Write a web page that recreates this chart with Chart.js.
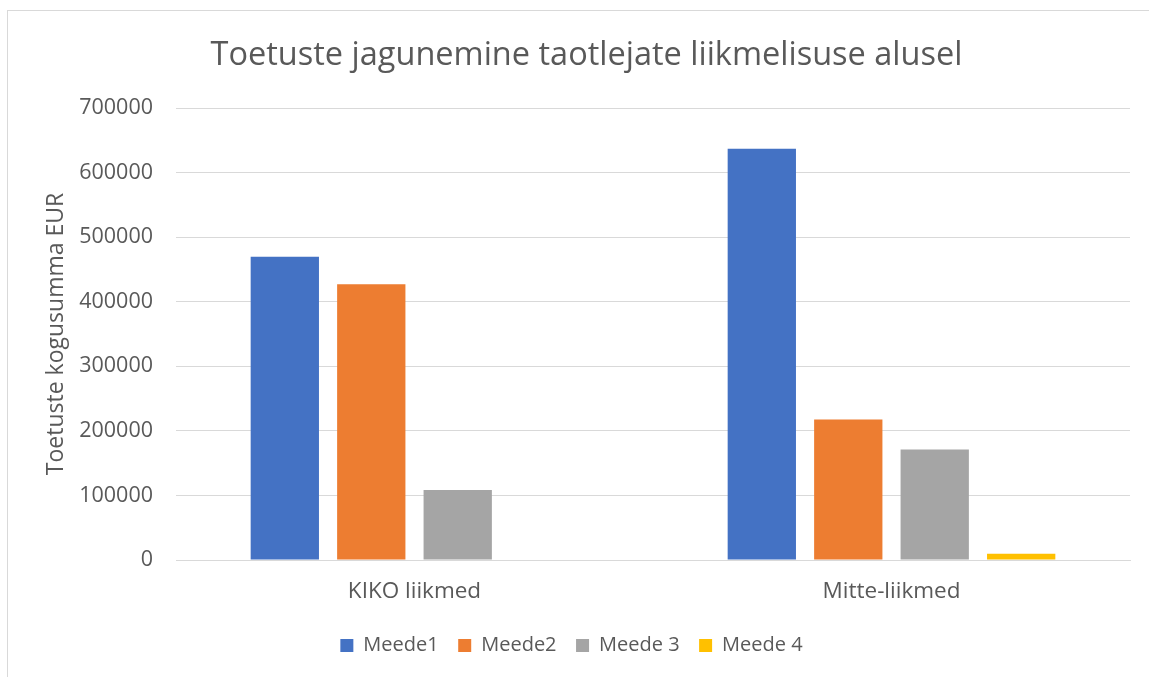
<!DOCTYPE html>
<html>
<head>
<meta charset="utf-8">
<script src="https://cdn.jsdelivr.net/npm/chart.js@4"></script>
<style>
  html, body { margin: 0; padding: 0; background: #fff; }
  #wrap { position: relative; width: 1149px; height: 677px; }
  #frame { position: absolute; left: 7px; top: 10px; width: 1160px; height: 700px; border: 1px solid #d9d9d9; box-sizing: border-box; }
  canvas { position: absolute; left: 0; top: 0; }
</style>
</head>
<body>
<div id="wrap">
  <div id="frame"></div>
  <canvas id="chart" width="1149" height="677"></canvas>
</div>
<script>
const categories = ['KIKO liikmed', 'Mitte-liikmed'];
const seriesNames = ['Meede1', 'Meede2', 'Meede 3', 'Meede 4'];
const meede1 = [469500, 637000];
const meede2 = [427000, 217500];
const meede3 = [108500, 171000];
const meede4 = [0, 9500];
const colors = ['#4472C4', '#ED7D31', '#A5A5A5', '#FFC000'];

const textColor = '#595959';
const font = 'Open Sans';

// legend sits a little left of centre in the original
const legendShift = {
    id: 'legendShift',
    afterLayout(chart) {
        chart.legend.left -= 15;
        chart.legend.right -= 15;
    }
};

const ctx = document.getElementById('chart').getContext('2d');
new Chart(ctx, {
    type: 'bar',
    data: {
        labels: categories,
        datasets: [meede1, meede2, meede3, meede4].map((d, i) => ({
            label: seriesNames[i],
            data: d,
            backgroundColor: colors[i],
            borderWidth: 0,
            categoryPercentage: 0.725,
            barPercentage: 0.79
        }))
    },
    options: {
        responsive: false,
        animation: false,
        layout: { padding: { left: 43, right: 19, top: 36, bottom: 11.5 } },
        plugins: {
            title: {
                display: true,
                text: 'Toetuste jagunemine taotlejate liikmelisuse alusel',
                color: textColor,
                font: { family: font, size: 32.5, weight: 'normal' },
                padding: { top: 0, bottom: 33 }
            },
            legend: {
                position: 'bottom',
                labels: {
                    color: textColor,
                    font: { family: font, size: 20 },
                    boxWidth: 13,
                    boxHeight: 13,
                    padding: 19.5
                }
            },
            tooltip: { enabled: false }
        },
        scales: {
            x: {
                grid: { display: false },
                border: { color: '#d9d9d9', width: 1 },
                ticks: { color: textColor, font: { family: font, size: 22.5 }, padding: 10.5 }
            },
            y: {
                min: 0,
                max: 700000,
                afterFit: scale => { scale.width = 133; },
                ticks: {
                    stepSize: 100000,
                    color: textColor,
                    font: { family: font, size: 21.5 },
                    padding: 23,
                    callback: v => String(v)
                },
                grid: { color: '#d9d9d9', drawTicks: false },
                border: { display: false },
                title: {
                    display: true,
                    text: 'Toetuste kogusumma EUR',
                    color: textColor,
                    font: { family: font, size: 23 },
                    padding: { top: 0, bottom: 10 }
                }
            }
        }
    },
    plugins: [legendShift]
});
</script>
</body>
</html>
